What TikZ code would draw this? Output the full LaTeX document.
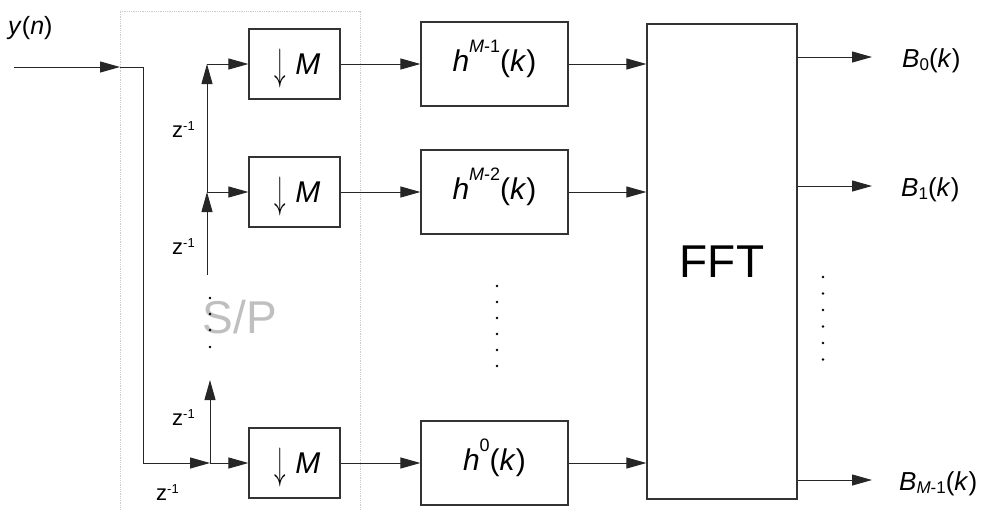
\documentclass[tikz,border=0pt]{standalone}
\usepackage{fontspec}
\setmainfont{Liberation Sans}
\usetikzlibrary{arrows.meta}
\newcommand{\myfs}[1]{\fontsize{#1}{#1}\selectfont}
\newcommand{\mysup}[3]{\smash{\raisebox{#1}{\myfs{#2}#3}}}
\newcommand{\mysub}[3]{\raisebox{-#1}{\myfs{#2}#3}}
\newcommand{\dnM}{\hspace*{6pt}\smash{\raisebox{-5.5pt}{\scalebox{2.3}[4.4]{\myfs{10}$\downarrow$}}}\hspace{9pt}\textit{M}}
\tikzset{
  sig/.style={draw=black!85, line width=1pt},
  arr/.style={sig, -{Triangle[length=20pt,width=11pt]}},
  blk/.style={draw=black!80, line width=1.2pt, inner sep=0pt, font=\myfs{30}},
  dsblk/.style={blk, minimum width=91pt, minimum height=70pt},
  hblk/.style={blk, minimum width=147pt, minimum height=84pt},
  zlab/.style={anchor=base west, inner sep=0pt, font=\myfs{22}},
  blab/.style={anchor=base west, inner sep=0pt, font=\myfs{26}},
  dotpt/.style={fill=black, radius=1.3pt}
}
\begin{document}
\begin{tikzpicture}[x=1pt,y=-1pt]
\useasboundingbox (0,0) rectangle (983,509);
% S/P frame
\draw[gray!40, densely dotted, line width=0.8pt] (120,515) -- (120,11) -- (360,11) -- (360,515);
\node[text=gray!50, font=\myfs{46}, inner sep=0pt] (sp) at (240,317) {S/P};
% blocks
\node[dsblk] (dsM1) at (294.5,64) {\dnM};
\node[dsblk] (dsM2) at (294.5,192) {\dnM};
\node[dsblk] (dsM0) at (294.5,463) {\dnM};
\node[hblk] (h1) at (494.5,64) {\textit{h}\mysup{19pt}{18}{\textit{M}-1}(\textit{k})};
\node[hblk] (h2) at (494.5,192) {\textit{h}\mysup{19pt}{18}{\textit{M}-2}(\textit{k})};
\node[hblk] (h0) at (494.5,463) {\textit{h}\mysup{19pt}{18}{0}(\textit{k})};
\node[blk, minimum width=150pt, minimum height=475pt, font=\myfs{46}] (fft) at (722,261.5) {FFT};
% input and delay chain
\coordinate (in) at (14,67);
\coordinate (s) at (120,67);
\coordinate (c1) at (143,67);
\coordinate (c2) at (143,463);
\coordinate (j0) at (210,463);
\coordinate (j0t) at (210,380);
\coordinate (u0) at (207,275);
\coordinate (j2) at (207,192);
\coordinate (j1) at (207,64);
\draw[arr] (in) -- (s);
\draw[arr] (s) -- (c1) -- (c2) -- (j0);
\draw[arr] (j0) -- (dsM0.west);
\draw[arr] (j0) -- (j0t);
\draw[arr] (u0) -- (j2);
\draw[arr] (j2) -- (j1);
\draw[arr] (j1) -- (dsM1.west);
\draw[arr] (j2) -- (dsM2.west);
% dots in chain
\foreach \yy in {298,314,330,347} \fill[dotpt] (210,\yy) circle;
% downsamplers to filters
\draw[arr] (dsM1.east) -- (h1.west);
\draw[arr] (dsM2.east) -- (h2.west);
\draw[arr] (dsM0.east) -- (h0.west);
% filters to FFT
\draw[arr] (h1.east) -- (h1.east -| fft.west);
\draw[arr] (h2.east) -- (h2.east -| fft.west);
\draw[arr] (h0.east) -- (h0.east -| fft.west);
\foreach \yy in {286,302,318,334,350,366} \fill[dotpt] (497,\yy) circle;
% outputs
\coordinate (o0) at (872,57);
\coordinate (o1) at (872,186);
\coordinate (o2) at (872,480);
\draw[arr] (fft.east |- o0) -- (o0);
\draw[arr] (fft.east |- o1) -- (o1);
\draw[arr] (fft.east |- o2) -- (o2);
\foreach \yy in {277,293.5,310,326.5,343,359.5} \fill[dotpt] (823,\yy) circle;
% labels
\node[anchor=base west, inner sep=0pt, font=\myfs{25}] (yn) at (8,34) {\textit{y}(\textit{n})};
\node[zlab] (z1) at (172,137) {z\mysup{7pt}{13}{-1}};
\node[zlab] (z2) at (172,254) {z\mysup{7pt}{13}{-1}};
\node[zlab] (z3) at (172,425) {z\mysup{7pt}{13}{-1}};
\node[zlab] (z4) at (156,500) {z\mysup{7pt}{13}{-1}};
\node[blab] (b0) at (902,67) {\textit{B}\mysub{3pt}{17}{0}(\textit{k})};
\node[blab] (b1) at (901,196) {\textit{B}\mysub{3pt}{17}{1}(\textit{k})};
\node[blab] (b2) at (899,490) {\textit{B}\mysub{3pt}{17}{\textit{M}-1}(\textit{k})};
\end{tikzpicture}
\end{document}
